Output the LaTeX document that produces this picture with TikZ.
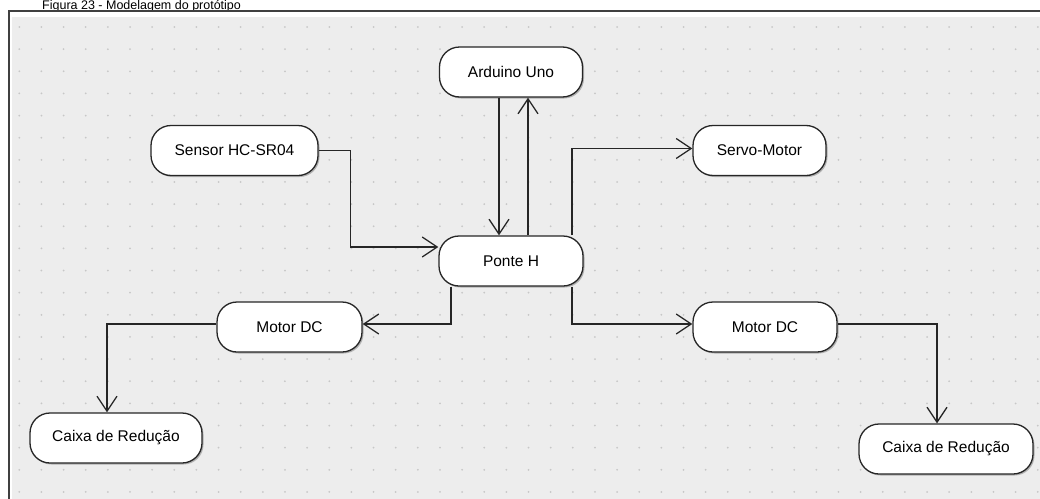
\documentclass[tikz,border=0pt]{standalone}
\usepackage{fontspec}
\setmainfont{Liberation Sans}
\usetikzlibrary{arrows.meta,shadows}

\begin{document}
\begin{tikzpicture}[x=1pt,y=-1pt,
  blk/.style={draw=black!85, fill=white, rounded corners=20pt, minimum height=50pt, inner xsep=18pt, line width=1.3pt,
    font=\fontsize{15.5}{18}\selectfont,
    drop shadow={shadow xshift=1.5pt, shadow yshift=-1.5pt, opacity=0.45, fill=black!60}},
  lnk/.style={draw=black!85, line width=1.3pt, -{Straight Barb[length=15pt,width=20pt]}}]
\useasboundingbox (0,0) rectangle (1040,498);
\clip (0,0) rectangle (1040,498);
\fill[white] (0,0) rectangle (1040,498);
\node[anchor=base west, font=\fontsize{12.5}{14}\selectfont, inner sep=0pt] (cap) at (42,9) {Figura 23 - Modelagem do protótipo};
\draw[line width=2pt, black!75] (9,11) rectangle (1060,520);
\fill[black!7] (12,17) rectangle (1060,520);
\foreach \i in {0,...,46}
  \foreach \j in {0,...,21}
    \fill[black!22] (19.3+22.14*\i,27+22.14*\j) circle (1pt);

\node[blk, minimum width=143pt] (arduino) at (511,72) {Arduino Uno};
\node[blk, minimum width=144pt] (ponte) at (511,261) {Ponte H};
\node[blk, minimum width=167pt] (sensor) at (234.5,150.5) {Sensor HC-SR04};
\node[blk, minimum width=133pt] (servo) at (759.5,150.5) {Servo-Motor};
\node[blk, minimum width=145pt] (motorl) at (289.5,327) {Motor DC};
\node[blk, minimum width=144pt] (motorr) at (765,327) {Motor DC};
\node[blk, minimum width=172pt] (caixal) at (116,438) {Caixa de Redução};
\node[blk, minimum width=174pt] (caixar) at (946,449) {Caixa de Redução};

\draw[lnk] ([xshift=-12pt]arduino.south) -- ([xshift=-12pt]ponte.north);
\draw[lnk] ([xshift=17pt]ponte.north) -- ([xshift=17pt]arduino.south);
\draw[lnk] (sensor.east) -- ++(32,0) |- ([yshift=14pt]ponte.west);
\draw[lnk] ([xshift=61pt]ponte.north) |- ([yshift=2pt]servo.west);
\draw[lnk] ([xshift=-60pt]ponte.south) |- ([yshift=3pt]motorl.east);
\draw[lnk] ([xshift=61pt]ponte.south) |- ([yshift=3pt]motorr.west);
\draw[lnk] ([yshift=3pt]motorl.west) -| ([xshift=-9pt]caixal.north);
\draw[lnk] ([yshift=3pt]motorr.east) -| ([xshift=-9pt]caixar.north);
\end{tikzpicture}
\end{document}
